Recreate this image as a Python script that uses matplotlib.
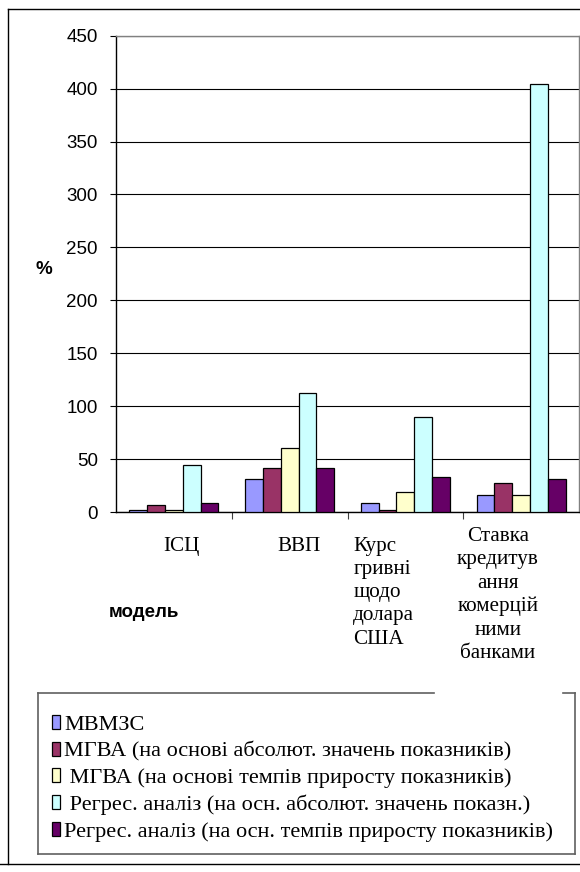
import numpy as np
import matplotlib
matplotlib.use("Agg")
import matplotlib.pyplot as plt
from matplotlib.lines import Line2D

# data
categories = ["ІСЦ", "ВВП", "Курс\nгривні\nщодо\nдолара\nСША",
              "Ставка\nкредитув\nання\nкомерцій\nними\nбанками"]
series_names = ["МВМЗС",
                "МГВА (на основі абсолют. значень показників)",
                " МГВА (на основі темпів приросту показників)",
                " Регрес. аналіз (на осн. абсолют. значень показн.)",
                "Регрес. аналіз (на осн. темпів приросту показників)"]
mvmzs = [2, 31, 8.5, 16.5]
mgva_abs = [6.5, 41.5, 2, 27]
mgva_temp = [2, 60.5, 18.5, 16]
regr_abs = [44, 112.5, 89.5, 404]
regr_temp = [8.5, 41.5, 33, 31]
series = [mvmzs, mgva_abs, mgva_temp, regr_abs, regr_temp]
colors = ["#9999FF", "#993366", "#FFFFCC", "#CCFFFF", "#660066"]
yticks = list(range(0, 451, 50))

W, H = 580, 872
serif = ["Liberation Serif", "DejaVu Serif"]
sans = ["Liberation Sans", "DejaVu Sans"]


def fx(x):
    return x / W


def fy(y):
    return 1 - y / H


fig = plt.figure(figsize=(W / 100, H / 100), dpi=100)
ax = fig.add_axes([fx(116), fy(512), fx(579 - 116), (512 - 35.7) / H])

x = np.arange(len(categories))
w = 0.154
bars = []
for j, vals in enumerate(series):
    b = ax.bar(x + (j - 2) * w, vals, w, color=colors[j], edgecolor="black",
               linewidth=0.9, zorder=3, label=series_names[j])
    bars.append(b)

ax.set_xlim(-0.5, len(categories) - 0.5)
ax.set_ylim(0, 450)
ax.set_yticks(yticks)
ax.set_yticklabels([str(v) for v in yticks], family=sans, fontsize=13.5)
ax.tick_params(axis="y", length=4, width=0.8, pad=9, color="black")
ax.yaxis.grid(True, color="black", linewidth=0.8, zorder=0)
ax.set_xticks([])
ax.set_xticks(np.arange(0.5, len(categories) - 0.5, 1), minor=True)
ax.tick_params(axis="x", which="minor", length=5, width=0.8, color="#404040")
ax.spines["left"].set_color("black")
ax.spines["bottom"].set_color("black")
ax.spines["top"].set_color("#808080")
ax.spines["right"].set_color("#808080")
for s in ax.spines.values():
    s.set_linewidth(1.0)

# category labels
tr = ax.get_xaxis_transform()
cfs = 15.2
ax.text(0.068, -0.052, categories[0], transform=tr, ha="center", va="top",
        family=serif, fontsize=cfs)
ax.text(1.081, -0.052, categories[1], transform=tr, ha="center", va="top",
        family=serif, fontsize=cfs)
ax.text(1.55, -0.052, categories[2], transform=tr, ha="left", va="top",
        family=serif, fontsize=cfs, linespacing=1.3)
ax.text(2.80, -0.032, categories[3], transform=tr, ha="center", va="top",
        family=serif, fontsize=cfs, linespacing=1.3, multialignment="center")

fig.text(fx(44), fy(270), "%", ha="center", va="center", family=sans,
         fontsize=13.5, fontweight="bold")
fig.text(fx(144), fy(612), "модель", ha="center", va="center", family=sans,
         fontsize=13.5, fontweight="bold")

leg = fig.legend(handles=bars, labels=series_names, loc="upper left",
                 bbox_to_anchor=(fx(43), fy(706)), frameon=False,
                 prop={"family": serif, "size": 16}, handlelength=0.36,
                 handleheight=0.6, handletextpad=0.2, labelspacing=0.3,
                 borderaxespad=0)

# legend frame (top edge is interrupted where the last label sits)
lc = "#606060"
for xs, ys in [([37.7, 37.7], [693, 853.7]), ([37.7, 574.5], [853.7, 853.7]),
               ([574.5, 574.5], [693, 853.7]), ([37.7, 434], [693, 693]),
               ([563, 574.5], [693, 693])]:
    fig.add_artist(Line2D([fx(v) for v in xs], [fy(v) for v in ys],
                          color=lc, linewidth=1.2, transform=fig.transFigure))

# outer page frame
for xs, ys in [([7.5, 7.5], [9.3, 864]), ([7.5, 580], [9.3, 9.3]),
               ([0, 580], [864, 864])]:
    fig.add_artist(Line2D([fx(v) for v in xs], [fy(v) for v in ys],
                          color="black", linewidth=1.0, transform=fig.transFigure))

fig.savefig("out.png", dpi=100)
